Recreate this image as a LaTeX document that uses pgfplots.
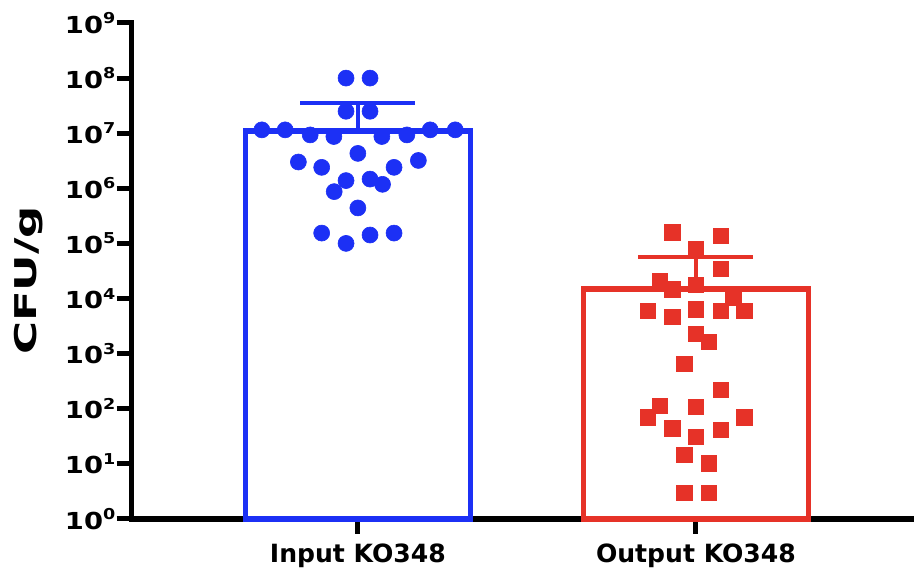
\documentclass[border=0pt]{standalone}
\usepackage{pgfplots}
\pgfplotsset{compat=1.18}
\usepackage{fontspec}
\setmainfont{DejaVu Sans}
\usepackage{graphicx}
\definecolor{pblue}{RGB}{28,48,245}
\definecolor{pred}{RGB}{230,50,40}
\newcommand\tl[1]{\scalebox{1.17}[1]{10\raisebox{4.7pt}{\fontsize{7.5}{8}\selectfont #1}}}
\begin{document}
\begin{tikzpicture}
\begin{axis}[
  scale only axis,
  width=391.2pt, height=248pt,
  xmin=-0.669, xmax=1.645,
  ymode=log, ymin=1, ymax=1e9,
  log basis y=10,
  clip=false,
  axis lines=left,
  axis line style={-, line width=2.75pt, line cap=rect},
  tick style={line width=2.5pt, black},
  tick align=outside,
  major tick length=7.5pt,
  yminorticks=false,
  ytick={1,10,100,1000,10000,100000,1000000,10000000,100000000,1000000000},
  yticklabels={\tl{0},\tl{1},\tl{2},\tl{3},\tl{4},\tl{5},\tl{6},\tl{7},\tl{8},\tl{9}},
  yticklabel style={font=\fontsize{11.7}{13}\selectfont\bfseries, anchor=east, inner sep=0.5pt},
  xtick={0,1},
  xticklabels={Input KO348,Output KO348},
  xticklabel style={font=\fontsize{12.55}{14}\selectfont\bfseries, anchor=base, yshift=-14.5pt},
  ylabel={\scalebox{1.5}[1]{CFU/g}},
  ylabel style={font=\fontsize{15}{18}\selectfont\bfseries, at={(axis description cs:-0.1314,0.481)}, anchor=center, rotate=0},
]
% bars
\addplot[ybar, bar width=0.666, bar shift=0pt, draw=pblue, fill=white, line width=2.75pt] coordinates {(0,1.1e7)};
\addplot[ybar, bar width=0.666, bar shift=0pt, draw=pred, fill=white, line width=2.75pt] coordinates {(1,1.5e4)};
% error bars
\addplot[pblue, line width=2pt] coordinates {(0,1.1e7) (0,3.6e7)};
\addplot[pblue, line width=2pt] coordinates {(-0.17,3.6e7) (0.17,3.6e7)};
\addplot[pred, line width=2pt] coordinates {(1,1.5e4) (1,5.7e4)};
\addplot[pred, line width=2pt] coordinates {(0.83,5.7e4) (1.17,5.7e4)};
% points
\addplot[color=pblue, only marks, mark=*, mark size=4pt, mark options={solid, fill=pblue, draw=pblue, line width=0.3pt}] coordinates {
(-0.035,1.0e8) (0.036,1.0e8)
(-0.035,2.5e7) (0.036,2.5e7)
(-0.284,1.15e7) (-0.215,1.15e7)
(-0.141,9.3e6) (-0.071,8.7e6)
(0.071,8.7e6) (0.145,9.3e6)
(0.214,1.15e7) (0.288,1.15e7)
(0,4.3e6)
(-0.176,3.0e6) (0.179,3.2e6)
(-0.107,2.4e6) (0.107,2.4e6)
(-0.035,1.38e6) (0.036,1.47e6) (0.073,1.18e6)
(-0.070,8.7e5)
(0,4.4e5)
(-0.107,1.54e5) (0.107,1.54e5)
(-0.035,1.0e5) (0.036,1.42e5)
};
\addplot[color=pred, only marks, mark=square*, mark size=3.85pt, mark options={solid, fill=pred, draw=pred, line width=0.3pt}] coordinates {
(0.930,1.58e5) (1.073,1.37e5)
(1.0,7.8e4)
(1.073,3.5e4)
(0.893,2.1e4) (0.930,1.47e4) (1.0,1.77e4)
(1.110,1.02e4)
(0.857,6.0e3) (1.073,6.0e3) (1.143,6.0e3)
(0.930,4.7e3) (1.0,6.4e3)
(1.0,2.3e3) (1.038,1.65e3)
(0.966,650)
(1.073,219)
(0.893,112) (1.0,109)
(0.857,70) (1.143,70)
(0.930,44) (1.0,31) (1.073,41)
(0.966,14.5) (1.038,10.2)
(0.966,3.0) (1.038,3.0)
};
\end{axis}
\pgfresetboundingbox
\path ([shift={(-65.85pt,-27.5pt)}]current axis.south west) rectangle ([shift={(0pt,11.5pt)}]current axis.north east);
\end{tikzpicture}
\end{document}
